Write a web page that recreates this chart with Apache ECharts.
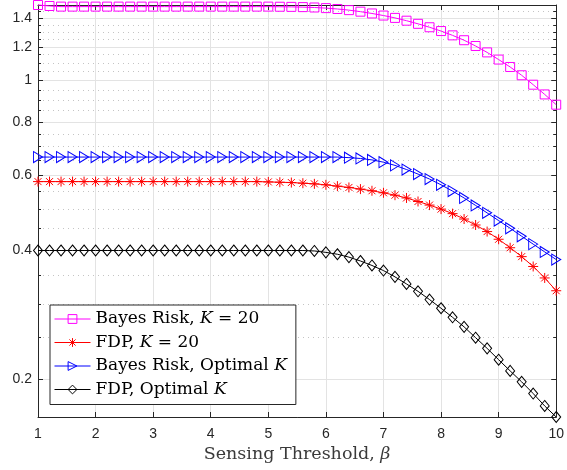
<!DOCTYPE html>
<html>
<head>
<meta charset="utf-8">
<script src="https://cdn.jsdelivr.net/npm/echarts@6/dist/echarts.min.js"></script>
<style>
html, body { margin: 0; padding: 0; background: #fff; }
#chart { width: 567px; height: 470px; }
</style>
</head>
<body>
<div id="chart"></div>
<script>
// sensing threshold beta
var betaValues = [1, 1.2, 1.4, 1.6, 1.8, 2, 2.2, 2.4, 2.6, 2.8, 3, 3.2, 3.4, 3.6, 3.8, 4, 4.2, 4.4, 4.6, 4.8,
    5, 5.2, 5.4, 5.6, 5.8, 6, 6.2, 6.4, 6.6, 6.8, 7, 7.2, 7.4, 7.6, 7.8, 8, 8.2, 8.4, 8.6, 8.8,
    9, 9.2, 9.4, 9.6, 9.8, 10];

var bayesRiskK20 = [1.503, 1.495, 1.49, 1.49, 1.49, 1.49, 1.49, 1.49, 1.49, 1.49, 1.49, 1.49, 1.49, 1.49, 1.49, 1.49, 1.49, 1.49, 1.49, 1.49,
    1.49, 1.489, 1.488, 1.486, 1.483, 1.478, 1.471, 1.462, 1.450, 1.436, 1.420, 1.402, 1.381, 1.358, 1.333, 1.306, 1.276, 1.243, 1.205, 1.164,
    1.120, 1.076, 1.029, 0.978, 0.928, 0.878];
var fdpK20 = [0.580, 0.580, 0.580, 0.580, 0.580, 0.580, 0.580, 0.580, 0.580, 0.580, 0.580, 0.580, 0.580, 0.580, 0.580, 0.580, 0.580, 0.580, 0.580, 0.580,
    0.579, 0.578, 0.577, 0.575, 0.573, 0.570, 0.566, 0.562, 0.557, 0.552, 0.546, 0.539, 0.531, 0.521, 0.511, 0.500, 0.488, 0.474, 0.459, 0.443,
    0.425, 0.406, 0.387, 0.367, 0.345, 0.322];
var bayesRiskOpt = [0.662, 0.662, 0.662, 0.662, 0.662, 0.662, 0.662, 0.662, 0.662, 0.662, 0.662, 0.662, 0.662, 0.662, 0.662, 0.662, 0.662, 0.662, 0.662, 0.662,
    0.662, 0.662, 0.662, 0.662, 0.662, 0.662, 0.662, 0.660, 0.657, 0.652, 0.644, 0.633, 0.619, 0.604, 0.588, 0.570, 0.551, 0.531, 0.510, 0.490,
    0.470, 0.451, 0.432, 0.414, 0.397, 0.381];
var fdpOpt = [0.400, 0.400, 0.400, 0.400, 0.400, 0.400, 0.400, 0.400, 0.400, 0.400, 0.400, 0.400, 0.400, 0.400, 0.400, 0.400, 0.400, 0.400, 0.400, 0.400,
    0.400, 0.400, 0.400, 0.400, 0.399, 0.396, 0.392, 0.386, 0.378, 0.369, 0.359, 0.347, 0.334, 0.321, 0.307, 0.293, 0.279, 0.265, 0.250, 0.236,
    0.222, 0.209, 0.197, 0.185, 0.173, 0.163];

var seriesNames = ['Bayes Risk, K = 20', 'FDP, K = 20', 'Bayes Risk, Optimal K', 'FDP, Optimal K'];
var seriesColors = ['#ff00ff', '#ff0000', '#0000ff', '#000000'];
var yMajorTicks = [0.2, 0.4, 0.6, 0.8, 1, 1.2, 1.4];
var yMinorTicks = [0.25, 0.3, 0.35, 0.45, 0.5, 0.55, 0.65, 0.7, 0.75, 0.85, 0.9, 0.95,
    1.05, 1.1, 1.15, 1.25, 1.3, 1.35, 1.45];
var yMin = 0.163, yMax = 1.503;

// y is drawn on log10 scale
function lg(v) { return Math.log10(v); }
function pairs(arr) {
    return arr.map(function (v, i) { return [betaValues[i], lg(v)]; });
}

var axisColor = '#262626';
var gridColor = '#e3e3e3';
var tickFont = 'Liberation Sans, Arial, sans-serif';
var serifFont = 'DejaVu Serif, serif';

function yAxisDef(pos, ticks, major) {
    return {
        type: 'value',
        position: pos,
        min: lg(yMin),
        max: lg(yMax),
        axisLine: { show: major, onZero: false, lineStyle: { color: axisColor, width: 1 } },
        axisTick: {
            show: true, inside: true, length: major ? 5 : 3,
            customValues: ticks.map(lg),
            lineStyle: { color: axisColor }
        },
        axisLabel: {
            show: major && pos === 'left',
            customValues: ticks.map(lg),
            margin: 6,
            color: axisColor,
            fontSize: 14,
            fontFamily: tickFont,
            formatter: function (v) { return String(parseFloat(Math.pow(10, v).toFixed(2))); }
        },
        splitLine: {
            show: pos === 'left',
            lineStyle: major ? { color: gridColor, width: 1 } : { color: '#c4c4c4', width: 1, type: [1, 4] }
        }
    };
}

var legendText = {
    'Bayes Risk, K = 20': '{t|Bayes Risk, }{i|K}{t| = 20}',
    'FDP, K = 20': '{t|FDP, }{i|K}{t| = 20}',
    'Bayes Risk, Optimal K': '{t|Bayes Risk, Optimal }{i|K}',
    'FDP, Optimal K': '{t|FDP, Optimal }{i|K}'
};

function lineSeries(name, data, color, symbol, size, rotate) {
    return {
        name: name,
        type: 'line',
        data: pairs(data),
        symbol: symbol,
        symbolSize: size,
        symbolRotate: rotate || 0,
        showAllSymbol: true,
        clip: false,
        lineStyle: { color: color, width: 1 },
        itemStyle: { color: 'rgba(255,255,255,0)', borderColor: color, borderWidth: 1 },
        emphasis: { disabled: true },
        z: 3
    };
}

var option = {
    animation: false,
    backgroundColor: '#fff',
    grid: { left: 38, right: 8, top: 5, bottom: 53 },
    legend: {
        orient: 'vertical',
        left: 50,
        top: 305,
        data: seriesNames.map(function (n, i) {
            return {
                name: n,
                itemStyle: { color: 'rgba(255,255,255,0)', borderColor: seriesColors[i], borderWidth: 1 },
                lineStyle: { color: seriesColors[i], width: 1 }
            };
        }),
        itemWidth: 36,
        itemHeight: 11,
        itemGap: 3.5,
        padding: [4, 9, 5, 4],
        backgroundColor: '#fff',
        borderColor: axisColor,
        borderWidth: 1,
        borderRadius: 0,
        formatter: function (name) { return legendText[name]; },
        textStyle: {
            color: '#000',
            lineHeight: 20,
            rich: {
                t: { fontFamily: serifFont, fontSize: 17, color: '#000', lineHeight: 20 },
                i: { fontFamily: serifFont, fontSize: 17, fontStyle: 'italic', color: '#000', lineHeight: 20 }
            }
        }
    },
    xAxis: [{
        type: 'value',
        position: 'bottom',
        min: 1,
        max: 10,
        interval: 1,
        name: '{t|Sensing Threshold, }{i|β}',
        nameLocation: 'middle',
        nameGap: 26,
        nameTextStyle: {
            rich: {
                t: { fontFamily: serifFont, fontSize: 17.5, color: '#3a3a3a' },
                i: { fontFamily: serifFont, fontSize: 17.5, fontStyle: 'italic', color: '#3a3a3a' }
            }
        },
        axisLine: { show: true, onZero: false, lineStyle: { color: axisColor } },
        axisTick: { inside: true, length: 5, lineStyle: { color: axisColor } },
        axisLabel: { margin: 10, color: axisColor, fontSize: 14, fontFamily: tickFont },
        splitLine: { show: true, lineStyle: { color: gridColor, width: 1 } }
    }, {
        type: 'value',
        position: 'top',
        min: 1,
        max: 10,
        interval: 1,
        axisLine: { show: true, onZero: false, lineStyle: { color: axisColor } },
        axisTick: { inside: true, length: 5, lineStyle: { color: axisColor } },
        axisLabel: { show: false },
        splitLine: { show: false }
    }],
    yAxis: [
        yAxisDef('left', yMajorTicks, true),
        yAxisDef('left', yMinorTicks, false),
        yAxisDef('right', yMajorTicks, true),
        yAxisDef('right', yMinorTicks, false)
    ],
    series: [
        lineSeries(seriesNames[0], bayesRiskK20, seriesColors[0], 'rect', 9),
        lineSeries(seriesNames[1], fdpK20, seriesColors[1], 'path://M0,-10L0,10M-10,0L10,0M-7,-7L7,7M-7,7L7,-7', 10),
        lineSeries(seriesNames[2], bayesRiskOpt, seriesColors[2], 'triangle', [11, 9], -90),
        lineSeries(seriesNames[3], fdpOpt, seriesColors[3], 'diamond', [9, 11])
    ]
};

var chart = echarts.init(document.getElementById('chart'));
chart.setOption(option);
</script>
</body>
</html>
